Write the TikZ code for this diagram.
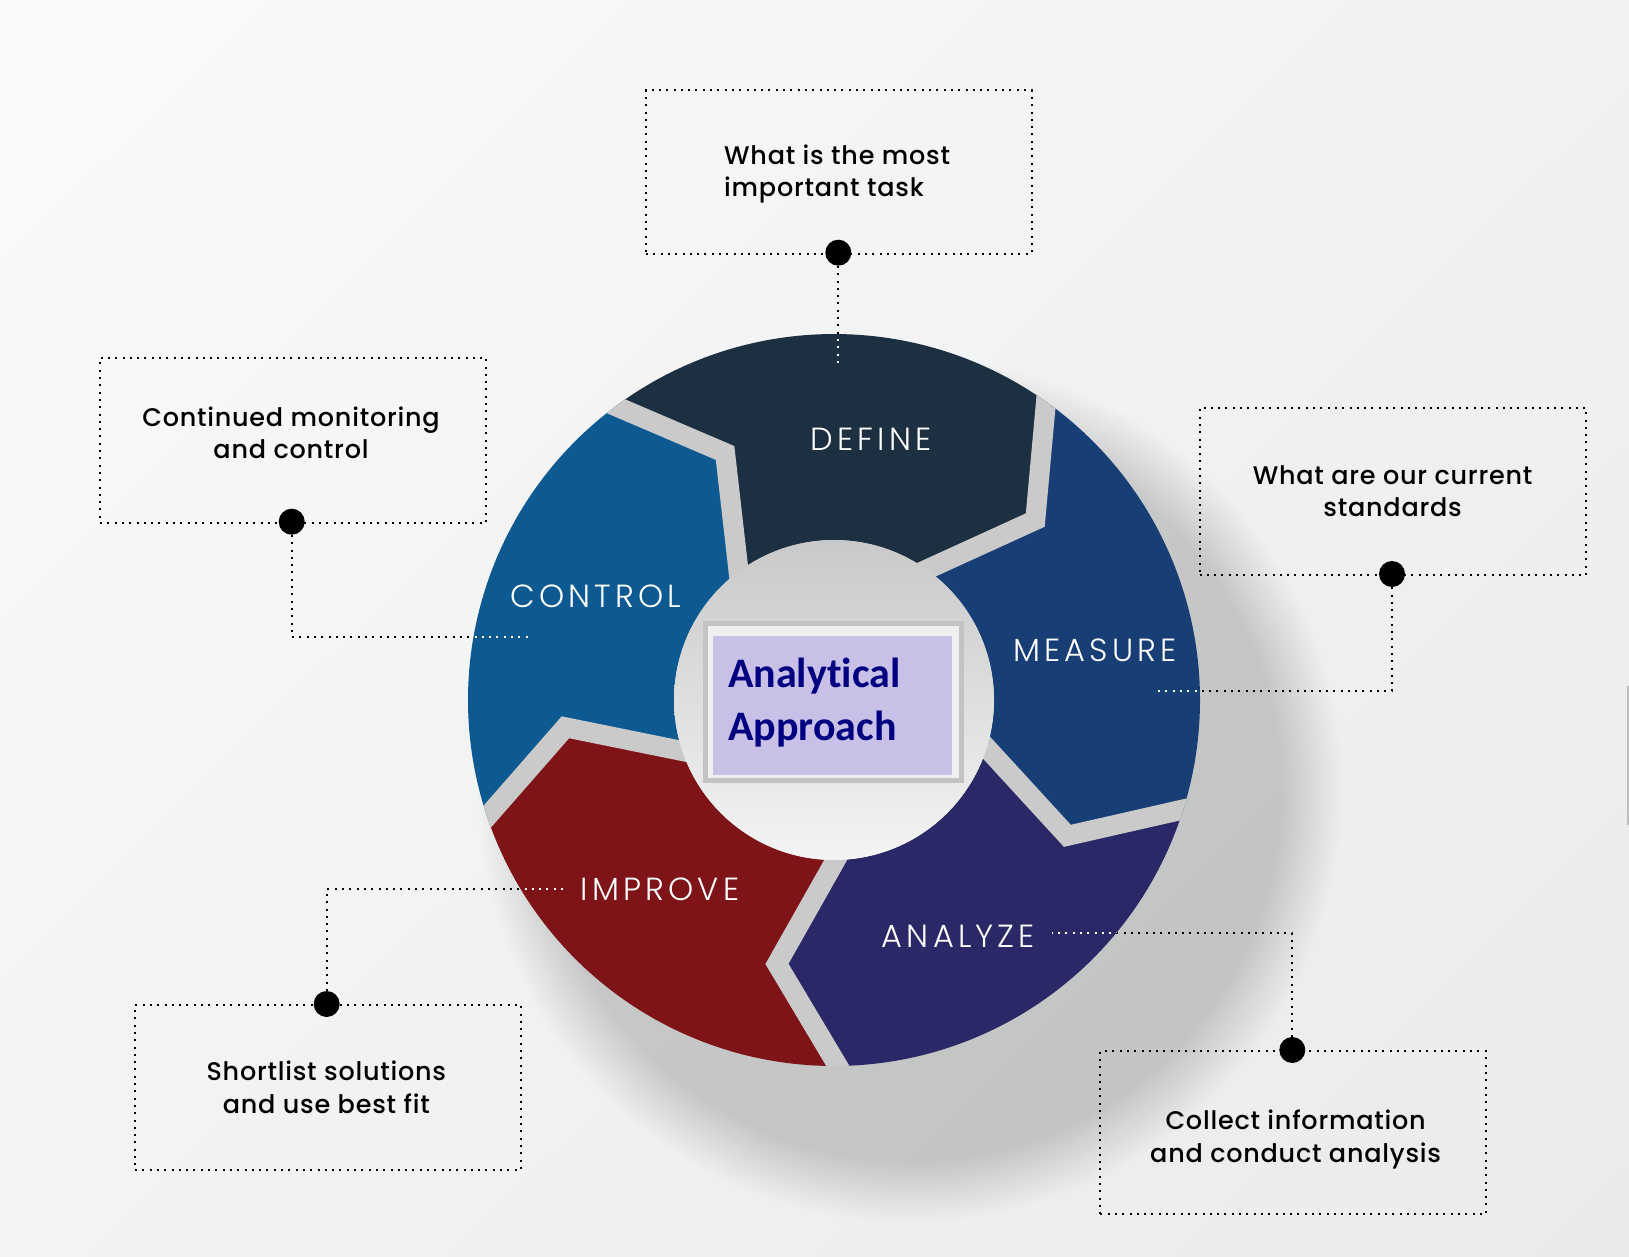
\documentclass[tikz,border=0pt]{standalone}
\usepackage{fontspec}
\IfFontExistsTF{Poppins Medium}{\setmainfont{Poppins Medium}[LetterSpace=3]}{\setmainfont{Poppins}[LetterSpace=3]}
\IfFontExistsTF{Poppins Light}{\newfontfamily\lightfont{Poppins Light}[LetterSpace=13]}{\newfontfamily\lightfont{Poppins}[LetterSpace=13]}
\newfontfamily\calfont{Carlito}[Ligatures=NoCommon]
\usetikzlibrary{calc,shadings}
\definecolor{defcol}{HTML}{1D3042}
\definecolor{meacol}{HTML}{173F76}
\definecolor{anacol}{HTML}{2B2868}
\definecolor{impcol}{HTML}{7E1417}
\definecolor{concol}{HTML}{0D5A92}
\definecolor{gapcol}{HTML}{CACACA}
\definecolor{innerA}{HTML}{C9C9C9}
\definecolor{innerB}{HTML}{F4F4F4}
\definecolor{lavcol}{HTML}{C8C0E6}
\definecolor{framegray}{HTML}{C3C3C3}
\definecolor{framefill}{HTML}{EFEFEF}
\definecolor{navytext}{HTML}{000080}
\definecolor{bgUL}{HTML}{FAFAFA}
\definecolor{bgUR}{HTML}{F1F1F1}
\definecolor{bgLL}{HTML}{F2F3F3}
\definecolor{bgLR}{HTML}{E9EAEA}
\begin{document}
\begin{tikzpicture}[x=1pt,y=-1pt,
  dotline/.style={line width=2pt, dash pattern=on 2pt off 5.3pt},
  descbox/.style={draw=black, dotline, rectangle, inner sep=0pt, anchor=north west},
  bullet/.style={circle, fill=black, minimum size=26pt, inner sep=0pt},
  desc/.style={font=\fontsize{25.5}{32}\selectfont, text=black, inner sep=0pt, anchor=base},
  seglabel/.style={font=\lightfont\fontsize{32}{38}\selectfont, text=white, inner sep=0pt, anchor=base},
  centertext/.style={font=\calfont\bfseries\fontsize{42}{50}\selectfont, text=navytext, inner sep=0pt, anchor=base west}
]
\def\Ro{366}\def\Ri{160}\def\Rm{270}
% background
\shade[upper left=bgUL, upper right=bgUR, lower left=bgLL, lower right=bgLR] (0,0) rectangle (1629,1257);
\useasboundingbox (0,0) rectangle (1629,1257);
% soft shadow behind the ring, towards the lower right
\foreach \rr in {372,375,...,432}{
  \fill[black, opacity=0.009] (910,790) circle[radius=\rr];
}
\begin{scope}[shift={(834,700)}]
% segments
\foreach \t/\c in {-126.6/defcol, -54.6/meacol, 17.4/anacol, 89.4/impcol, 161.4/concol}{
  \pgfmathsetmacro\h{\t+72}
  \pgfmathsetmacro\hm{\h+12.8}
  \pgfmathsetmacro\tm{\t+12.8}
  \fill[\c] (\t:\Ro) arc[start angle=\t, end angle=\h, radius=\Ro] -- (\hm:\Rm) -- (\h:\Ri) arc[start angle=\h, end angle=\t, radius=\Ri] -- (\tm:\Rm) -- cycle;
}
% gaps
\begin{scope}
\clip (0,0) circle[radius=\Ro];
\foreach \b in {-54.6,17.4,89.4,161.4,233.4}{
  \pgfmathsetmacro\bm{\b+12.8}
  \draw[gapcol, line width=20pt, line join=miter, miter limit=10] ($(\bm:\Rm)!1.5!(\b:\Ro)$) -- (\bm:\Rm) -- ($(\bm:\Rm)!1.5!(\b:\Ri)$);
}
\end{scope}
\shade[top color=innerA, bottom color=innerB] (0,0) circle[radius=\Ri];
\end{scope}
% center box
\node[draw=framegray, line width=5pt, fill=framefill, minimum width=256pt, minimum height=156.5pt, inner sep=0pt] (frame) at (833.5,702.2) {};
\node[fill=lavcol, minimum width=239pt, minimum height=139pt, inner sep=0pt] (lav) at (832.5,705.5) {};
\node[centertext] (cA) at (728,687.3) {Analytical};
\node[centertext] (cB) at (728,740.7) {Approach};
% segment labels
\node[seglabel] (lDEF) at (871,450) {DEFINE};
\node[seglabel] (lMEA) at (1095,661.6) {MEASURE};
\node[seglabel] (lANA) at (958.5,947) {ANALYZE};
\node[seglabel] (lIMP) at (660,900) {IMPROVE};
\node[seglabel] (lCON) at (596,607.3) {CONTROL};
% boxes
\node[descbox, minimum width=385.5pt, minimum height=163.7pt] (b1) at (645,89) {};
\node[descbox, minimum width=386pt, minimum height=165pt] (b2) at (99,356.7) {};
\node[descbox, minimum width=386.7pt, minimum height=167pt] (b3) at (1198.5,407) {};
\node[descbox, minimum width=385.2pt, minimum height=163.4pt] (b4) at (1099.3,1050) {};
\node[descbox, minimum width=386pt, minimum height=164.7pt] (b5) at (134,1004) {};
% description texts
\node[desc, anchor=base west] (t1a) at (724,165) {What is the most};
\node[desc, anchor=base west] (t1b) at (724,196.7) {important task};
\node[desc] (t2a) at (291,426) {Continued monitoring};
\node[desc] (t2b) at (291,458.3) {and control};
\node[desc] (t3a) at (1392.6,484) {What are our current};
\node[desc] (t3b) at (1392.6,516) {standards};
\node[desc] (t4a) at (1295.6,1129.3) {Collect information};
\node[desc] (t4b) at (1295.6,1162.3) {and conduct analysis};
\node[desc] (t5a) at (326.3,1080.7) {Shortlist solutions};
\node[desc] (t5b) at (326.3,1113.3) {and use best fit};
% connector coordinates
\coordinate (c1) at (838.3,368);
\coordinate (c2a) at (291.7,636.8); \coordinate (c2b) at (532,636.8);
\coordinate (c3a) at (1392,691); \coordinate (c3b) at (1153.3,691);
\coordinate (c4a) at (1292.3,933.3); \coordinate (c4b) at (1051.7,933.3);
\coordinate (c5a) at (326.7,889.3); \coordinate (c5b) at (566.5,889.3);
% dots
\node[bullet] (d1) at (838.3,252.7) {};
\node[bullet] (d2) at (291.7,521.7) {};
\node[bullet] (d3) at (1392,574) {};
\node[bullet] (d4) at (1292.3,1050) {};
\node[bullet] (d5) at (326.7,1004) {};
% connectors
\draw[dotline] (d1) -- (c1);
\draw[dotline] (d2) -- (c2a) -- (c2b);
\draw[dotline] (d3) -- (c3a) -- (c3b);
\draw[dotline] (d4) -- (c4a) -- (c4b);
\draw[dotline] (d5) -- (c5a) -- (c5b);
\begin{scope}
\clip (834,700) circle[radius=\Ro];
\draw[dotline, white] (d1) -- (c1);
\draw[dotline, white] (d2) -- (c2a) -- (c2b);
\draw[dotline, white] (d3) -- (c3a) -- (c3b);
\draw[dotline, white] (d4) -- (c4a) -- (c4b);
\draw[dotline, white] (d5) -- (c5a) -- (c5b);
\end{scope}
% edge artifact
\draw[black!25, line width=1.5pt] (1628,686) -- (1628,825);
\end{tikzpicture}
\end{document}
